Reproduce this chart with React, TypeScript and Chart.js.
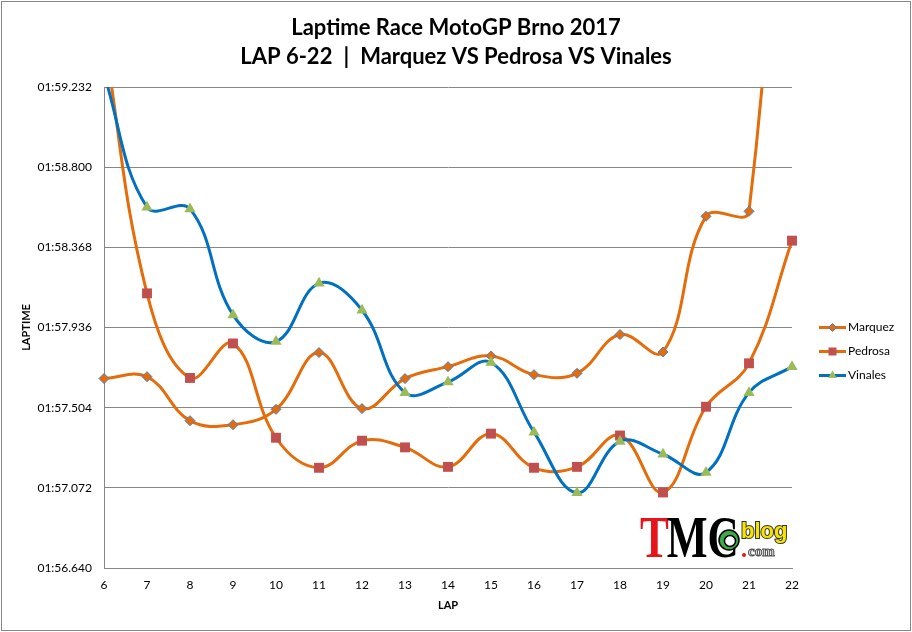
import React, { useEffect, useRef } from 'react';
import { Chart, registerables } from 'chart.js';

Chart.register(...registerables);

// ---- data (lap times in seconds) ----
const laps = ['6', '7', '8', '9', '10', '11', '12', '13', '14', '15', '16', '17', '18', '19', '20', '21', '22'];
const seriesNames = ['Marquez', 'Pedrosa', 'Vinales'];
const marquez = [117.661, 117.671, 117.434, 117.412, 117.495, 117.801, 117.499, 117.661, 117.725, 117.783, 117.682, 117.689, 117.898, 117.804, 118.535, 118.562, 122.4];
const pedrosa = [119.5, 118.12, 117.664, 117.85, 117.342, 117.18, 117.326, 117.29, 117.185, 117.364, 117.18, 117.185, 117.354, 117.047, 117.509, 117.743, 118.404];
const vinales = [119.3, 118.584, 118.575, 118.004, 117.86, 118.174, 118.029, 117.585, 117.642, 117.747, 117.372, 117.045, 117.322, 117.253, 117.155, 117.585, 117.725];
const yTicks = [116.64, 117.072, 117.504, 117.936, 118.368, 118.8, 119.232];
const titleLines = ['Laptime Race MotoGP Brno 2017', 'LAP 6-22\u2002|\u2002Marquez VS Pedrosa VS Vinales'];
const xTitle = 'LAP';
const yTitle = 'LAPTIME';

const ORANGE = '#E46C0A';
const RED = '#C0504D';
const GREEN = '#9BBB59';
const BLUE = '#0070C0';
const DIAMOND_EDGE = '#4F81BD';
const GRID = '#868686';
const FONT = 'Lato, "Open Sans", sans-serif';

function fmt(v: number): string {
  const m = Math.floor(v / 60);
  const s = v - m * 60;
  return String(m).padStart(2, '0') + ':' + s.toFixed(3).padStart(6, '0');
}

function drawMarker(ctx: CanvasRenderingContext2D, style: string, x: number, y: number, r: number, fill: string, stroke?: string) {
  ctx.beginPath();
  if (style === 'rectRot') {
    ctx.moveTo(x - r, y);
    ctx.lineTo(x, y - r);
    ctx.lineTo(x + r, y);
    ctx.lineTo(x, y + r);
  } else if (style === 'rect') {
    ctx.rect(x - r, y - r, 2 * r, 2 * r);
  } else {
    ctx.moveTo(x, y - r);
    ctx.lineTo(x + r * 0.866, y + r * 0.5);
    ctx.lineTo(x - r * 0.866, y + r * 0.5);
  }
  ctx.closePath();
  ctx.fillStyle = fill;
  ctx.fill();
  if (stroke) {
    ctx.lineWidth = 1;
    ctx.strokeStyle = stroke;
    ctx.stroke();
  }
}

const framePlugin = {
  id: 'frame',
  beforeDraw(chart: any) {
    const { ctx, width, height } = chart;
    ctx.save();
    ctx.fillStyle = '#fff';
    ctx.fillRect(0, 0, width, height);
    ctx.strokeStyle = GRID;
    ctx.lineWidth = 1;
    ctx.strokeRect(1.5, 1.5, width - 3, height - 3);
    ctx.restore();
  },
};

const legendPlugin = {
  id: 'sideLegend',
  afterDraw(chart: any) {
    const { ctx, chartArea } = chart;
    const x0 = chartArea.right + 27;
    const midY = (chartArea.top + chartArea.bottom) / 2;
    const specs = [
      { style: 'rectRot', r: 4, fill: ORANGE, stroke: DIAMOND_EDGE },
      { style: 'rect', r: 4, fill: RED },
      { style: 'triangle', r: 5, fill: GREEN },
    ];
    chart.data.datasets.forEach((ds: any, i: number) => {
      const y = midY + i * 24;
      ctx.save();
      ctx.strokeStyle = ds.borderColor;
      ctx.lineWidth = 3;
      ctx.beginPath();
      ctx.moveTo(x0, y);
      ctx.lineTo(x0 + 27, y);
      ctx.stroke();
      const sp = specs[i];
      drawMarker(ctx, sp.style, x0 + 13.5, y, sp.r, sp.fill, sp.stroke);
      ctx.fillStyle = '#000';
      ctx.font = '12px ' + FONT;
      ctx.textBaseline = 'middle';
      ctx.textAlign = 'left';
      ctx.fillText(ds.label, x0 + 29, y);
      ctx.restore();
    });
  },
};

const logoPlugin = {
  id: 'logo',
  afterDraw(chart: any) {
    const { ctx, chartArea } = chart;
    const x = chartArea.right - 152;
    const base = chartArea.bottom - 11;
    ctx.save();
    ctx.textBaseline = 'alphabetic';
    ctx.textAlign = 'left';
    // TMC
    ctx.save();
    ctx.translate(x, base);
    ctx.scale(0.72, 1);
    ctx.font = 'bold 60px "Liberation Serif", serif';
    ctx.fillStyle = '#E8141B';
    ctx.fillText('T', 0, 0);
    const tw = ctx.measureText('T').width;
    ctx.fillStyle = '#000';
    ctx.fillText('MC', tw - 3, 0);
    ctx.restore();
    // emblem
    ctx.beginPath();
    ctx.arc(x + 89, base - 17, 10, 0, Math.PI * 2);
    ctx.fillStyle = '#3DAA48';
    ctx.fill();
    ctx.lineWidth = 1.5;
    ctx.strokeStyle = '#000';
    ctx.stroke();
    ctx.beginPath();
    ctx.arc(x + 90, base - 16, 5.5, 0, Math.PI * 2);
    ctx.fillStyle = '#fff';
    ctx.fill();
    ctx.stroke();
    // blog
    ctx.font = 'bold 22px "Liberation Sans", Arial, sans-serif';
    ctx.lineWidth = 2;
    ctx.strokeStyle = '#333';
    ctx.strokeText('blog', x + 101, base - 19);
    ctx.fillStyle = '#F5E400';
    ctx.fillText('blog', x + 101, base - 19);
    // .com
    ctx.fillStyle = '#E8141B';
    ctx.beginPath();
    ctx.arc(x + 104, base - 2, 2, 0, Math.PI * 2);
    ctx.fill();
    ctx.font = 'bold 15px "Liberation Serif", serif';
    ctx.lineWidth = 1;
    ctx.strokeStyle = '#555';
    ctx.fillStyle = '#ddd';
    ctx.fillText('com', x + 108, base - 1);
    ctx.strokeText('com', x + 108, base - 1);
    ctx.restore();
  },
};

export default function App() {
  const ref = useRef<HTMLCanvasElement | null>(null);

  useEffect(() => {
    document.body.style.margin = '0';
    const canvas = ref.current;
    if (!canvas) return;
    const clip = { left: 8, right: 8, top: 0, bottom: 8 };
    const chart = new Chart(canvas, {
      type: 'line',
      data: {
        labels: laps,
        datasets: [
          {
            label: seriesNames[0],
            data: marquez,
            borderColor: ORANGE,
            borderWidth: 3,
            tension: 0.4,
            pointStyle: 'rectRot',
            pointRadius: 5,
            pointBackgroundColor: ORANGE,
            pointBorderColor: DIAMOND_EDGE,
            pointBorderWidth: 1,
            order: 2,
            clip,
          },
          {
            label: seriesNames[1],
            data: pedrosa,
            borderColor: ORANGE,
            borderWidth: 3,
            tension: 0.4,
            pointStyle: 'rect',
            pointRadius: 7,
            pointBackgroundColor: RED,
            pointBorderColor: RED,
            pointBorderWidth: 0,
            order: 1,
            clip,
          },
          {
            label: seriesNames[2],
            data: vinales,
            borderColor: BLUE,
            borderWidth: 3,
            tension: 0.4,
            pointStyle: 'triangle',
            pointRadius: 6.5,
            pointBackgroundColor: GREEN,
            pointBorderColor: GREEN,
            pointBorderWidth: 0,
            order: 0,
            clip,
          },
        ],
      },
      options: {
        animation: false,
        responsive: false,
        events: [],
        elements: { line: { capBezierPoints: false, fill: false } },
        layout: { padding: { left: 0, right: 0, top: 0, bottom: 0 } },
        plugins: {
          legend: { display: false },
          tooltip: { enabled: false },
          title: {
            display: true,
            text: titleLines,
            color: '#000',
            font: { family: FONT, size: 22, weight: 'bold', lineHeight: '29px' },
            padding: { top: 13, bottom: 16 },
          },
        },
        scales: {
          x: {
            type: 'category',
            offset: false,
            grid: { display: false, drawTicks: false },
            border: { display: true, color: GRID, width: 1 },
            ticks: { color: '#000', font: { family: FONT, size: 12 }, padding: 10, maxRotation: 0, autoSkip: false },
            title: {
              display: true,
              text: xTitle,
              color: '#000',
              font: { family: FONT, size: 11, weight: 'bold' },
              padding: { top: 0, bottom: 20 },
            },
            afterFit: (s: any) => {
              s.height = 64;
            },
          },
          y: {
            min: yTicks[0],
            max: yTicks[yTicks.length - 1],
            afterBuildTicks: (s: any) => {
              s.ticks = yTicks.map((value) => ({ value }));
            },
            grid: { color: GRID, lineWidth: 1, drawTicks: false },
            border: { display: true, color: GRID, width: 1 },
            ticks: {
              color: '#000',
              font: { family: FONT, size: 12 },
              padding: 12,
              callback: (v: any) => fmt(Number(v)),
            },
            title: {
              display: true,
              text: yTitle,
              color: '#000',
              font: { family: FONT, size: 11, weight: 'bold' },
              padding: { top: 20, bottom: 0 },
            },
            afterFit: (s: any) => {
              s.width = 104;
            },
          },
          legendSpace: {
            type: 'linear',
            position: 'right',
            display: true,
            grid: { display: false, drawTicks: false },
            border: { display: false },
            ticks: { display: false },
            afterFit: (s: any) => {
              s.width = 120;
            },
          },
        },
      },
      plugins: [framePlugin, legendPlugin, logoPlugin],
    } as any);
    return () => chart.destroy();
  }, []);

  return (
    <div style={{ width: 912, height: 632 }}>
      <canvas ref={ref} width={912} height={632} style={{ display: 'block' }} />
    </div>
  );
}
